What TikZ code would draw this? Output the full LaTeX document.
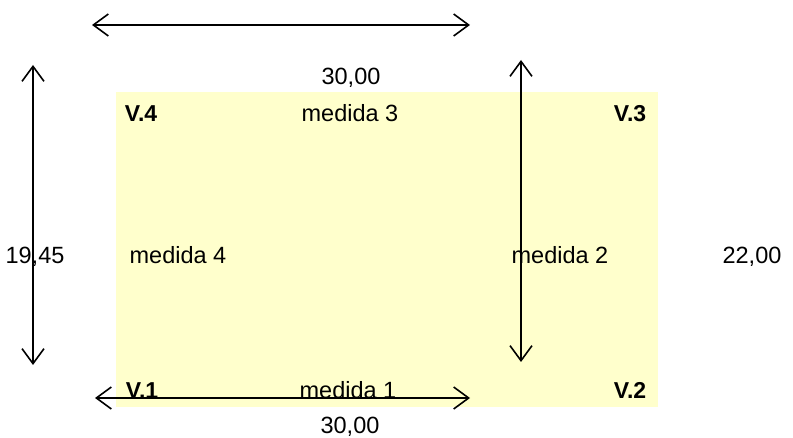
\documentclass[tikz,border=0pt]{standalone}
\usepackage{fontspec}
\setmainfont{Liberation Sans}
\usetikzlibrary{arrows.meta}
\definecolor{paleyellow}{RGB}{255,255,204}
\begin{document}
\begin{tikzpicture}[x=1pt,y=-1pt,
  lbl/.style={font=\fontsize{23.5}{27}\selectfont, inner sep=0pt, anchor=base},
  vtx/.style={lbl, font=\fontsize{23}{27}\selectfont\bfseries},
  dim/.style={line width=1.6pt, {Straight Barb[length=15pt,width=22pt,line width=1.6pt]}-{Straight Barb[length=15pt,width=22pt,line width=1.6pt]}}]
\useasboundingbox (0,0) rectangle (793,438);
\fill[paleyellow] (116,92) rectangle (658,407);
% labels
\node[lbl] (dimtop) at (351,85) {30,00};
\node[lbl] (m3) at (350,122) {medida 3};
\node[vtx] (v4) at (141,122) {V.4};
\node[vtx] (v3) at (630,122) {V.3};
\node[lbl] (dimleft) at (35,264) {19,45};
\node[lbl] (m4) at (178,264) {medida 4};
\node[lbl] (m2) at (560,264) {medida 2};
\node[lbl] (dimright) at (752,264) {22,00};
\node[vtx] (v1) at (142,399) {V.1};
\node[lbl] (m1) at (348,399) {medida 1};
\node[vtx] (v2) at (630,399) {V.2};
\node[lbl] (dimbot) at (350,433) {30,00};
% arrows
\coordinate (ta) at (92,25);
\coordinate (tb) at (470,25);
\coordinate (ba) at (95,398);
\coordinate (bb) at (470,398);
\coordinate (la) at (33,65);
\coordinate (lb) at (33,365);
\coordinate (ra) at (521,60);
\coordinate (rb) at (521,362);
\draw[dim] (ta) -- (tb);
\draw[dim] (ba) -- (bb);
\draw[dim] (la) -- (lb);
\draw[dim] (ra) -- (rb);
\end{tikzpicture}
\end{document}
